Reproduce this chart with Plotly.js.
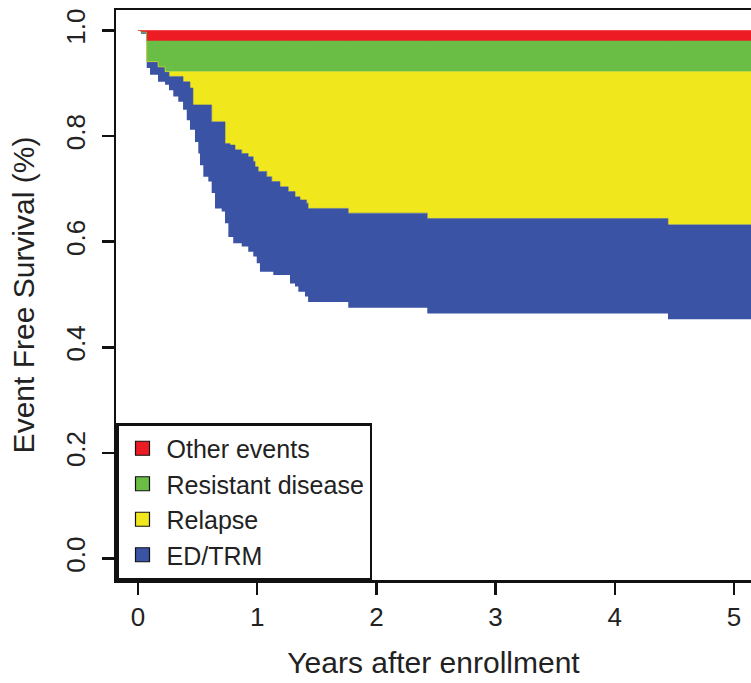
<!DOCTYPE html>
<html>
<head>
<meta charset="utf-8">
<script src="https://cdn.plot.ly/plotly-3.0.1.min.js"></script>
<style>
  html, body { margin: 0; padding: 0; background: #ffffff; overflow: hidden; }
  #chart { width: 751px; height: 683px; }
</style>
</head>
<body>
<div id="chart"></div>
<script>
// Years after enrollment at which the stacked curves step
const years = [0, 0.025, 0.073, 0.101, 0.168, 0.227, 0.260, 0.296, 0.338, 0.378,
  0.409, 0.436, 0.461, 0.478, 0.506, 0.520, 0.548, 0.590, 0.618, 0.646,
  0.702, 0.730, 0.758, 0.772, 0.799, 0.814, 0.870, 0.925, 0.967, 0.982,
  0.996, 1.009, 1.023, 1.080, 1.122, 1.135, 1.191, 1.261, 1.275, 1.317,
  1.345, 1.359, 1.401, 1.414, 1.427, 1.764, 2.427, 4.446, 5.2];

// Event free survival (bottom of the stack)
const efs = [1.000, 0.994, 0.929, 0.916, 0.903, 0.897, 0.887, 0.875, 0.865, 0.850,
  0.830, 0.812, 0.812, 0.789, 0.767, 0.745, 0.723, 0.714, 0.692, 0.663,
  0.657, 0.635, 0.609, 0.609, 0.597, 0.597, 0.591, 0.581, 0.572, 0.572,
  0.559, 0.559, 0.543, 0.543, 0.543, 0.537, 0.537, 0.537, 0.521, 0.515,
  0.505, 0.505, 0.496, 0.496, 0.486, 0.475, 0.464, 0.453, 0.453];

// Cumulative incidence of each event type
const edtrm = [0, 0.003, 0.012, 0.025, 0.028, 0.025, 0.026, 0.038, 0.048, 0.053,
  0.073, 0.079, 0.047, 0.070, 0.092, 0.114, 0.136, 0.145, 0.135, 0.164,
  0.170, 0.151, 0.177, 0.174, 0.186, 0.177, 0.176, 0.180, 0.180, 0.170,
  0.183, 0.174, 0.190, 0.180, 0.171, 0.177, 0.167, 0.158, 0.174, 0.170,
  0.180, 0.174, 0.183, 0.177, 0.177, 0.179, 0.180, 0.179, 0.179];

const relapse = [0, 0, 0, 0, 0, 0, 0.009, 0.009, 0.009, 0.019,
  0.019, 0.031, 0.063, 0.063, 0.063, 0.063, 0.063, 0.063, 0.095, 0.095,
  0.095, 0.136, 0.136, 0.139, 0.139, 0.148, 0.155, 0.161, 0.170, 0.180,
  0.180, 0.189, 0.189, 0.199, 0.208, 0.208, 0.218, 0.227, 0.227, 0.237,
  0.237, 0.243, 0.243, 0.249, 0.259, 0.268, 0.278, 0.290, 0.290];

const resistant = [0, 0, 0.039, 0.039, 0.049, 0.058, 0.058, 0.058, 0.058, 0.058,
  0.058, 0.058, 0.058, 0.058, 0.058, 0.058, 0.058, 0.058, 0.058, 0.058,
  0.058, 0.058, 0.058, 0.058, 0.058, 0.058, 0.058, 0.058, 0.058, 0.058,
  0.058, 0.058, 0.058, 0.058, 0.058, 0.058, 0.058, 0.058, 0.058, 0.058,
  0.058, 0.058, 0.058, 0.058, 0.058, 0.058, 0.058, 0.058, 0.058];

const other = [0, 0.003, 0.020, 0.020, 0.020, 0.020, 0.020, 0.020, 0.020, 0.020,
  0.020, 0.020, 0.020, 0.020, 0.020, 0.020, 0.020, 0.020, 0.020, 0.020,
  0.020, 0.020, 0.020, 0.020, 0.020, 0.020, 0.020, 0.020, 0.020, 0.020,
  0.020, 0.020, 0.020, 0.020, 0.020, 0.020, 0.020, 0.020, 0.020, 0.020,
  0.020, 0.020, 0.020, 0.020, 0.020, 0.020, 0.020, 0.020, 0.020];

const legendNames = ["Other events", "Resistant disease", "Relapse", "ED/TRM"];
const xTicks = [0, 1, 2, 3, 4, 5];
const yTicks = [0.0, 0.2, 0.4, 0.6, 0.8, 1.0];

const colors = {
  "Other events": "#ED1C24",
  "Resistant disease": "#6ABD45",
  "Relapse": "#F0E81C",
  "ED/TRM": "#3A53A4"
};

const FONT = "Liberation Sans, Arial, Helvetica, sans-serif";

function stackTrace(name, values) {
  return {
    x: years, y: values, name: name, type: "scatter", mode: "lines",
    stackgroup: "cif",
    line: { shape: "hv", width: 0.6, color: colors[name] },
    fillcolor: colors[name],
    showlegend: false, hoverinfo: "skip"
  };
}

const traces = [
  {
    x: years, y: efs, name: "EFS", type: "scatter", mode: "lines",
    stackgroup: "cif",
    line: { shape: "hv", width: 0, color: "rgba(0,0,0,0)" },
    fillcolor: "rgba(0,0,0,0)",
    showlegend: false, hoverinfo: "skip"
  },
  stackTrace("ED/TRM", edtrm),
  stackTrace("Relapse", relapse),
  stackTrace("Resistant disease", resistant),
  stackTrace("Other events", other)
];

// legend keys (square swatches with black outline)
legendNames.forEach(function (n) {
  traces.push({
    x: [null], y: [null], name: n, type: "scatter", mode: "markers",
    marker: { symbol: "square", size: 14, color: colors[n], line: { color: "#111", width: 1.2 } },
    showlegend: true, hoverinfo: "skip"
  });
});

const layout = {
  width: 751, height: 683,
  margin: { l: 116, r: 0, t: 10, b: 103 },
  paper_bgcolor: "#ffffff", plot_bgcolor: "#ffffff",
  font: { family: FONT, color: "#222", size: 24 },
  showlegend: true,
  legend: {
    x: 0, y: 0, xanchor: "left", yanchor: "bottom",
    bgcolor: "#ffffff", bordercolor: "#111", borderwidth: 2.5,
    font: { family: FONT, size: 25, color: "#222" },
    traceorder: "normal", itemwidth: 38, tracegroupgap: 0
  },
  xaxis: {
    range: [-0.1846, 5.1426],
    tickvals: xTicks, ticktext: xTicks.map(String),
    ticks: "outside", ticklen: 12, tickwidth: 2.5, tickcolor: "#111",
    showline: true, linewidth: 2.5, linecolor: "#111", mirror: true,
    showgrid: false, zeroline: false,
    tickfont: { family: FONT, size: 26, color: "#222" },
    title: { text: "Years after enrollment", font: { family: FONT, size: 30, color: "#222" }, standoff: 22 }
  },
  yaxis: {
    range: [-0.0407, 1.0388],
    tickvals: yTicks, ticktext: yTicks.map(function (v) { return v.toFixed(1); }),
    tickangle: -90,
    ticks: "outside", ticklen: 12, tickwidth: 2.5, tickcolor: "#111",
    ticklabelstandoff: 6,
    showline: true, linewidth: 2.5, linecolor: "#111", mirror: false,
    showgrid: false, zeroline: false,
    tickfont: { family: FONT, size: 26, color: "#222" },
    title: { text: "Event Free Survival (%)", font: { family: FONT, size: 30, color: "#222" }, standoff: 18 }
  }
};

Plotly.newPlot("chart", traces, layout, { displayModeBar: false, staticPlot: true });
</script>
</body>
</html>
